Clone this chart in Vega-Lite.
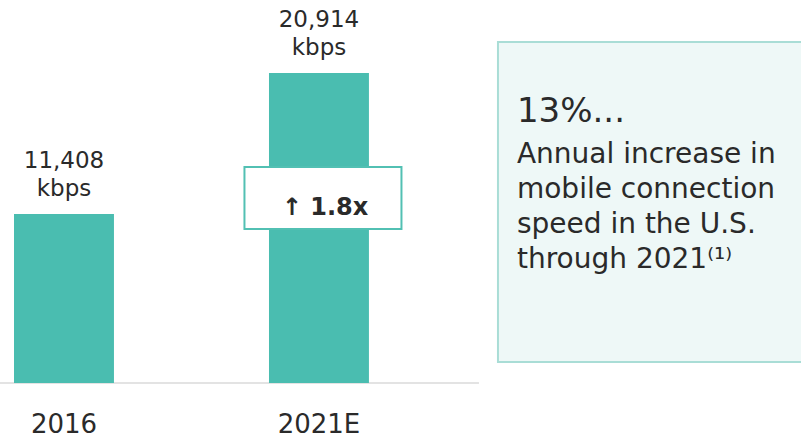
{
  "$schema": "https://vega.github.io/schema/vega-lite/v6.json",
  "width": 801,
  "height": 439,
  "padding": 0,
  "autosize": {"type": "none"},
  "background": "white",
  "config": {"view": {"stroke": null}, "font": "DejaVu Sans"},
  "data": {"values": [
    {"year": "2016", "kbps": 11408},
    {"year": "2021E", "kbps": 20914}
  ]},
  "layer": [
    {
      "data": {"values": [{"note": "baseline"}]},
      "mark": {"type": "rule", "color": "#dadada", "strokeWidth": 1.5, "xOffset": -14, "x2Offset": 160},
      "encoding": {
        "x": {"datum": "2016", "type": "nominal", "bandPosition": 0,
              "scale": {"domain": ["2016", "2021E"], "paddingInner": 0.608, "paddingOuter": 0.8747, "align": 0.0314}, "axis": null},
        "x2": {"datum": "2021E"},
        "y": {"datum": 0, "type": "quantitative", "scale": {"domain": [-3778, 25839], "nice": false, "zero": false}, "axis": null}
      }
    },
    {
      "mark": {"type": "bar", "color": "#4abdb0"},
      "encoding": {
        "x": {"field": "year", "type": "nominal"},
        "y": {"field": "kbps", "type": "quantitative"}
      }
    },
    {
      "mark": {"type": "text", "baseline": "alphabetic", "dy": -46, "fontSize": 23, "color": "#2a2a2a"},
      "encoding": {
        "x": {"field": "year", "type": "nominal"},
        "y": {"field": "kbps", "type": "quantitative"},
        "text": {"field": "kbps", "type": "quantitative", "format": ","}
      }
    },
    {
      "mark": {"type": "text", "baseline": "alphabetic", "dy": -18, "fontSize": 23, "color": "#2a2a2a"},
      "encoding": {
        "x": {"field": "year", "type": "nominal"},
        "y": {"field": "kbps", "type": "quantitative"},
        "text": {"value": "kbps"}
      }
    },
    {
      "mark": {"type": "text", "baseline": "alphabetic", "fontSize": 26, "color": "#2a2a2a"},
      "encoding": {
        "x": {"field": "year", "type": "nominal"},
        "y": {"datum": -3340, "type": "quantitative"},
        "text": {"field": "year", "type": "nominal"}
      }
    },
    {
      "data": {"values": [{"note": "ratio"}]},
      "mark": {"type": "bar", "width": 157, "xOffset": 4, "fill": "white", "stroke": "#52c0b3", "strokeWidth": 2},
      "encoding": {
        "x": {"datum": "2021E", "type": "nominal"},
        "y": {"datum": 14572, "type": "quantitative"},
        "y2": {"datum": 10390}
      }
    },
    {
      "data": {"values": [{"label": "↑ 1.8x"}]},
      "mark": {"type": "text", "baseline": "alphabetic", "dx": 6, "dy": -2, "fontSize": 24, "fontWeight": "bold", "color": "#2a2a2a"},
      "encoding": {
        "x": {"datum": "2021E", "type": "nominal"},
        "y": {"datum": 11199, "type": "quantitative"},
        "text": {"field": "label", "type": "nominal"}
      }
    },
    {
      "data": {"values": [{"note": "box"}]},
      "mark": {"type": "bar", "width": 330, "xOffset": 344, "fill": "#eef8f7", "stroke": "#a9ddd6", "strokeWidth": 2},
      "encoding": {
        "x": {"datum": "2021E", "type": "nominal"},
        "y": {"datum": 23005, "type": "quantitative"},
        "y2": {"datum": 1417}
      }
    },
    {
      "data": {"values": [{"label": "13%..."}]},
      "mark": {"type": "text", "align": "left", "baseline": "alphabetic", "dx": 198, "fontSize": 34, "color": "#2a2a2a"},
      "encoding": {
        "x": {"datum": "2021E", "type": "nominal"},
        "y": {"datum": 17608, "type": "quantitative"},
        "text": {"field": "label", "type": "nominal"}
      }
    },
    {
      "data": {"values": [{"label": "Annual increase in\nmobile connection\nspeed in the U.S.\nthrough 2021⁽¹⁾"}]},
      "mark": {"type": "text", "align": "left", "baseline": "alphabetic", "dx": 198, "fontSize": 28, "lineBreak": "\n", "lineHeight": 35, "color": "#2a2a2a"},
      "encoding": {
        "x": {"datum": "2021E", "type": "nominal"},
        "y": {"datum": 14842, "type": "quantitative"},
        "text": {"field": "label", "type": "nominal"}
      }
    }
  ]
}
